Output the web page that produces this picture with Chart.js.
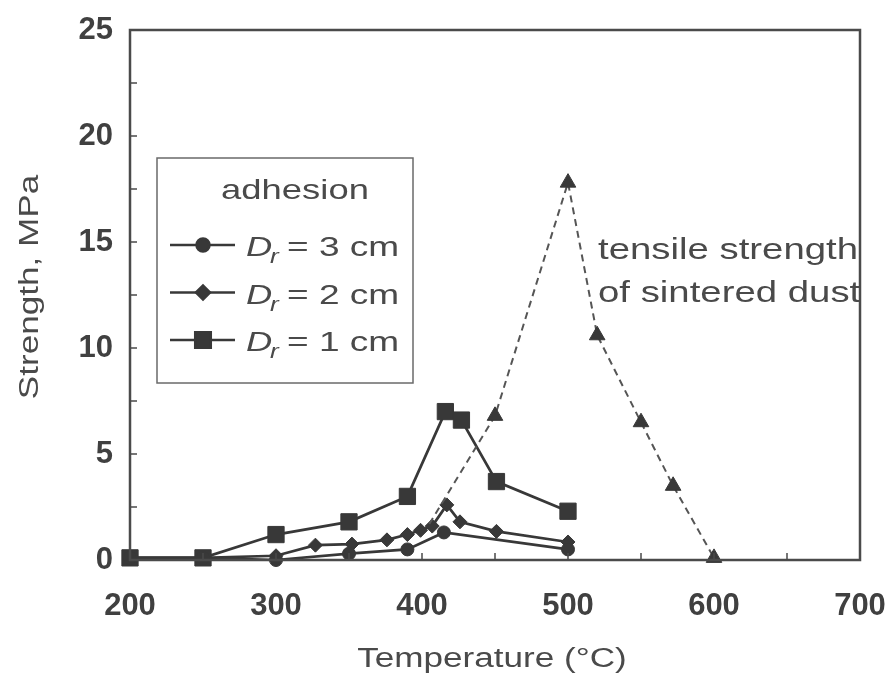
<!DOCTYPE html>
<html>
<head>
<meta charset="utf-8">
<script src="https://cdn.jsdelivr.net/npm/chart.js@4/dist/chart.umd.min.js"></script>
<style>
  html, body { margin: 0; padding: 0; background: #fff; }
  #wrap { width: 892px; height: 684px; }
</style>
</head>
<body>
<div id="wrap"><canvas id="strengthChart" width="892" height="684"></canvas></div>
<script>
// adhesion, D_r = 3 cm
const temp3 = [200, 250, 300, 350, 390, 415, 500];
const adh3 = [0.1, 0.1, 0.0, 0.3, 0.5, 1.3, 0.5];
// adhesion, D_r = 2 cm
const temp2 = [200, 250, 300, 327, 352, 376, 390, 399, 407, 417, 426, 451, 500];
const adh2 = [0.1, 0.1, 0.2, 0.7, 0.75, 0.95, 1.2, 1.4, 1.6, 2.6, 1.8, 1.35, 0.85];
// adhesion, D_r = 1 cm
const temp1 = [200, 250, 300, 350, 390, 416, 427, 451, 500];
const adh1 = [0.1, 0.1, 1.2, 1.8, 3.0, 7.0, 6.6, 3.7, 2.3];
// tensile strength of sintered dust
const tempT = [405, 450, 500, 520, 550, 572, 600];
const tensile = [1.7, 6.8, 17.8, 10.6, 6.5, 3.5, 0.1];

const xTicks = [200, 300, 400, 500, 600, 700];
const yTicks = [0, 5, 10, 15, 20, 25];

const ink = '#383838';
const textGray = '#4a4a4a';
const sans = '"Liberation Sans", Arial, sans-serif';
const wide = 1.3; // horizontal stretch of the regular lettering

function pts(xs, ys) {
    return xs.map((x, i) => ({ x: x, y: ys[i] }));
}

// stretched text helper
function wideText(ctx, text, x, y, font, align, rot) {
    ctx.save();
    ctx.font = font;
    ctx.textAlign = align || 'left';
    ctx.textBaseline = 'alphabetic';
    ctx.translate(x, y);
    if (rot) ctx.rotate(rot);
    ctx.scale(wide, 1);
    ctx.fillText(text, 0, 0);
    ctx.restore();
}

// plot frame plus inward minor ticks
const framePlugin = {
    id: 'frame',
    afterDatasetsDraw(chart) {
        const ctx = chart.ctx;
        const a = chart.chartArea;
        const xs = chart.scales.x, ys = chart.scales.y;
        ctx.save();
        ctx.strokeStyle = '#4a4a4a';
        ctx.lineWidth = 2.5;
        ctx.strokeRect(a.left, a.top, a.right - a.left, a.bottom - a.top);
        ctx.lineWidth = 1.5;
        ctx.beginPath();
        for (let v = 250; v < 700; v += 50) {
            const px = xs.getPixelForValue(v);
            ctx.moveTo(px, a.bottom);
            ctx.lineTo(px, a.bottom - 7);
        }
        for (let v = 2.5; v < 25; v += 2.5) {
            const py = ys.getPixelForValue(v);
            ctx.moveTo(a.left, py);
            ctx.lineTo(a.left + 7, py);
        }
        ctx.stroke();
        ctx.restore();
    }
};

// axis titles, boxed legend with subscripted D_r, and the tensile note
const notesPlugin = {
    id: 'notes',
    afterDraw(chart) {
        const ctx = chart.ctx;
        ctx.save();
        ctx.fillStyle = textGray;
        wideText(ctx, 'Temperature (°C)', 492, 667, '27px ' + sans, 'center');
        wideText(ctx, 'Strength, MPa', 38, 287, '27px ' + sans, 'center', -Math.PI / 2);

        ctx.fillStyle = '#fff';
        ctx.fillRect(157, 158, 256, 225);
        ctx.strokeStyle = '#6a6a6a';
        ctx.lineWidth = 1.5;
        ctx.strokeRect(157, 158, 256, 225);

        ctx.fillStyle = textGray;
        wideText(ctx, 'adhesion', 295, 199, '28px ' + sans, 'center');

        const entries = [
            { label: '3', style: 'circle', r: 6.5 },
            { label: '2', style: 'rectRot', r: 7 },
            { label: '1', style: 'rect', r: 11 }
        ];
        entries.forEach((e, i) => {
            const y = 245 + i * 47.5;
            ctx.strokeStyle = ink;
            ctx.lineWidth = 2.5;
            ctx.beginPath();
            ctx.moveTo(170, y);
            ctx.lineTo(235, y);
            ctx.stroke();
            ctx.fillStyle = ink;
            Chart.helpers.drawPoint(ctx, { pointStyle: e.style, radius: e.r, borderWidth: 1 }, 203, y);

            ctx.fillStyle = textGray;
            wideText(ctx, 'D', 246, y + 11, 'italic 28px ' + sans);
            wideText(ctx, 'r', 270, y + 18, 'italic 20px ' + sans);
            wideText(ctx, '= ' + e.label + ' cm', 287, y + 11, '28.5px ' + sans);
        });

        wideText(ctx, 'tensile strength', 598, 259, '29.5px ' + sans);
        wideText(ctx, 'of sintered dust', 598, 302, '29.5px ' + sans);
        ctx.restore();
    }
};

const lineSet = (label, data, style, radius) => ({
    label: label,
    data: data,
    showLine: true,
    borderColor: ink,
    backgroundColor: ink,
    borderWidth: 2.7,
    pointStyle: style,
    pointRadius: radius,
    pointBorderWidth: 1,
    pointBorderColor: ink,
    pointBackgroundColor: ink,
    tension: 0
});

const tickFont = { family: '"Liberation Sans", Arial', size: 31, weight: 'bold' };

new Chart(document.getElementById('strengthChart'), {
    type: 'scatter',
    data: {
        datasets: [
            Object.assign(lineSet('tensile strength of sintered dust', pts(tempT, tensile), 'triangle', 9), {
                borderColor: '#555',
                borderWidth: 2,
                borderDash: [7, 5],
                pointRadius: tempT.map((t, i) => i === 0 ? 0 : 9)
            }),
            lineSet('Dr = 3 cm', pts(temp3, adh3), 'circle', 6.5),
            lineSet('Dr = 2 cm', pts(temp2, adh2), 'rectRot', 7),
            lineSet('Dr = 1 cm', pts(temp1, adh1), 'rect', 11.5)
        ]
    },
    options: {
        responsive: false,
        animation: false,
        clip: false,
        layout: { padding: { top: 30, right: 32, left: 0, bottom: 0 } },
        plugins: {
            legend: { display: false },
            tooltip: { enabled: false }
        },
        scales: {
            x: {
                type: 'linear',
                min: 200,
                max: 700,
                afterBuildTicks: s => { s.ticks = xTicks.map(v => ({ value: v })); },
                afterFit: s => {
                    s.height = 124;
                    s.paddingLeft = 0;
                    s.paddingRight = 0;
                },
                grid: { display: false, drawTicks: false },
                border: { display: false },
                ticks: { padding: 28, color: '#404040', font: tickFont }
            },
            y: {
                type: 'linear',
                min: 0,
                max: 25,
                afterBuildTicks: s => { s.ticks = yTicks.map(v => ({ value: v })); },
                afterFit: s => {
                    s.width = 130;
                    s.paddingTop = 0;
                    s.paddingBottom = 0;
                },
                grid: { display: false, drawTicks: false },
                border: { display: false },
                ticks: { padding: 17, color: '#404040', font: tickFont }
            }
        }
    },
    plugins: [framePlugin, notesPlugin]
});
</script>
</body>
</html>
